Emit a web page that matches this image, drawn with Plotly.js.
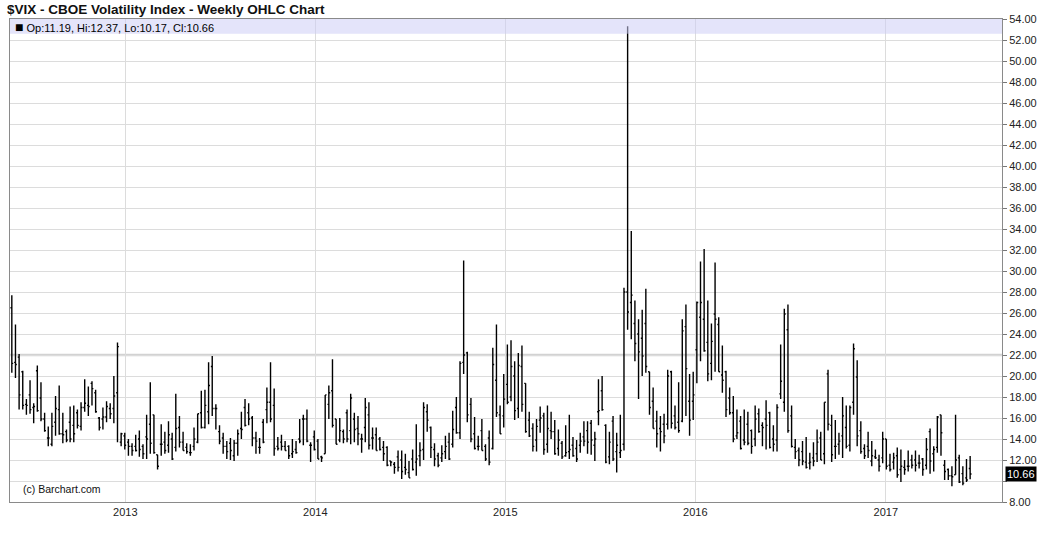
<!DOCTYPE html>
<html>
<head>
<meta charset="utf-8">
<script src="https://cdn.plot.ly/plotly-3.0.1.min.js"></script>
<style>
  html, body { margin: 0; padding: 0; background: #fff; }
  #chart { width: 1043px; height: 534px; }
</style>
</head>
<body>
<div id="chart"></div>
<script>
// ---- Data (weekly OHLC) ----
const firstWeek = '2012-05-28';

const opens = [
26.5,21.3,21.8,20.4,17.3,18.2,17.0,20.5,17.9,15.9,14.1,13.5,15.6,16.8,14.5,14.7,15.6,15.3,16.5,15.2,
17.0,17.2,19.3,18.4,16.0,15.9,16.1,16.9,16.9,18.4,13.7,14.3,13.7,13.3,13.3,14.0,13.3,14.2,15.4,16.3,
12.5,13.5,13.7,13.4,14.0,13.2,15.1,13.7,13.2,12.7,13.3,13.7,16.5,15.1,16.6,20.9,16.9,14.7,14.1,13.3,
13.6,12.4,13.6,15.0,17.0,16.5,16.0,14.1,13.2,15.6,16.8,17.5,17.2,13.3,13.7,13.3,13.3,12.6,13.0,14.0,
15.9,15.9,13.4,14.2,13.8,12.3,12.6,17.3,18.6,15.9,13.9,14.7,16.5,14.8,15.9,15.0,14.0,15.1,16.3,14.1,
14.4,14.0,13.2,13.2,11.9,11.6,12.3,12.0,11.3,10.8,12.1,11.8,12.4,13.0,16.6,15.1,13.0,12.4,12.2,12.8,
13.7,13.5,17.0,14.6,21.3,22.2,17.3,14.5,13.3,14.8,13.3,14.1,13.1,19.6,16.3,16.2,19.2,18.0,20.0,16.9,
20.9,19.3,15.8,15.0,13.9,15.8,16.2,13.5,14.8,14.7,13.1,13.6,12.4,12.8,13.4,13.1,13.4,14.2,14.8,15.5,
13.4,16.6,18.6,15.3,12.3,15.7,12.8,12.7,13.5,28.0,27.0,25.0,24.0,23.6,25.0,20.4,17.6,15.7,15.0,15.4,
15.4,20.4,16.2,15.6,15.7,24.7,17.6,17.6,22.5,25.6,25.4,23.2,21.2,25.9,24.9,20.1,20.4,17.9,16.5,14.3,
15.7,13.9,15.4,14.8,14.0,16.4,15.3,15.9,16.5,14.0,13.9,18.3,17.5,24.4,16.2,13.2,12.9,12.8,11.8,11.7,
12.2,12.6,14.1,12.6,20.2,15.3,13.3,13.5,14.3,15.1,13.4,17.5,19.9,14.8,13.1,13.3,11.9,12.3,12.0,12.2,
14.0,11.5,11.8,12.4,11.1,11.3,11.4,12.0,12.0,11.7,12.1,11.5,14.7,12.6,13.2,16.3,11.5,11.1,10.5,10.6,
12.2,10.7,10.3,11.19
];
const highs = [
27.7,24.9,22.1,20.5,17.8,19.6,17.4,21.0,19.4,16.5,15.2,16.5,18.1,19.1,16.5,14.9,17.1,17.2,16.8,17.5,
19.7,19.0,19.5,18.7,16.1,17.0,17.6,17.4,20.0,23.2,14.6,14.6,14.0,13.6,14.4,14.8,13.5,16.3,19.4,16.3,
12.5,15.4,14.7,15.7,14.6,18.3,16.2,14.7,13.6,13.5,15.1,16.4,18.6,18.7,21.3,21.9,17.3,15.3,14.6,13.8,
14.1,13.9,14.9,16.6,17.8,17.4,16.2,14.7,14.1,15.9,18.9,21.3,18.8,14.2,14.4,13.8,13.4,14.0,13.8,15.9,
16.3,16.8,13.7,14.8,14.0,12.4,18.2,19.1,21.6,15.9,16.0,14.9,16.8,18.3,16.5,16.2,14.5,17.9,17.5,15.1,
15.1,14.2,13.8,13.3,11.9,11.8,12.9,12.9,12.6,11.9,13.0,15.4,13.7,17.5,17.3,15.2,13.6,12.7,13.4,14.3,
14.6,16.7,18.0,21.4,31.0,22.3,17.9,16.1,14.3,15.9,13.5,14.8,22.7,24.9,17.2,20.2,23.0,23.4,21.4,22.2,
22.9,19.3,16.6,15.5,15.9,17.1,16.5,17.2,16.6,15.8,14.9,13.8,15.3,16.3,14.2,13.9,14.6,15.7,15.7,15.8,
14.7,19.7,20.0,15.4,14.7,16.2,14.6,16.3,28.4,53.3,33.8,27.2,25.4,26.3,28.3,20.4,18.9,16.7,16.2,16.4,
20.6,20.5,17.2,19.4,25.4,26.8,20.2,20.4,27.1,30.9,32.1,27.2,25.0,30.8,25.6,22.9,20.5,18.9,18.1,16.8,
16.2,16.8,16.6,14.9,17.2,16.9,15.6,17.7,16.6,15.3,17.3,23.0,26.4,26.8,17.2,14.0,13.2,13.8,14.2,12.7,
13.7,14.9,14.7,17.5,20.6,16.3,15.8,14.6,18.0,17.2,17.2,23.1,21.5,15.7,13.5,14.7,13.8,13.0,12.5,14.7,
14.0,12.6,12.7,13.2,13.0,12.0,12.9,12.5,12.9,12.5,12.2,14.1,15.0,13.3,16.2,16.3,12.0,11.2,11.4,16.3,
12.5,11.4,12.1,12.37
];
const lows = [
20.3,19.8,16.8,16.8,16.3,16.4,15.5,16.6,15.7,14.7,13.3,13.3,14.3,14.4,13.6,13.7,13.7,13.7,15.0,14.8,
16.6,16.2,17.2,16.5,14.8,14.9,15.6,15.9,15.5,13.7,13.3,13.0,12.4,12.4,12.8,12.3,12.1,12.1,12.6,12.6,
11.1,12.4,12.6,12.7,12.0,12.8,13.2,12.9,12.6,12.4,12.9,13.6,15.0,15.0,15.4,16.2,14.9,13.5,12.6,12.1,
12.0,11.9,12.4,14.0,15.2,15.3,13.3,12.6,12.6,13.6,15.5,15.6,12.4,12.9,12.9,12.9,12.1,12.2,12.6,13.6,
13.4,13.7,11.8,12.9,12.1,11.8,12.6,15.9,15.1,13.5,13.7,13.6,13.7,13.5,13.7,13.4,12.7,13.7,13.0,13.0,
12.9,12.9,11.9,11.4,11.4,10.7,10.9,10.2,10.6,10.3,11.0,10.5,11.4,12.0,14.7,12.2,11.4,11.3,11.8,12.1,
12.0,13.2,14.5,14.0,20.2,15.6,13.7,13.0,12.9,12.9,11.9,11.5,13.0,16.1,14.5,15.1,17.3,17.6,15.8,16.0,
16.6,14.6,14.2,12.8,12.8,14.6,12.5,12.7,14.0,12.5,12.4,12.1,12.3,12.1,12.3,11.8,12.7,13.3,12.6,12.5,
11.9,15.3,16.7,11.7,11.6,11.9,10.8,12.2,12.9,24.4,23.5,21.4,17.8,20.0,20.3,16.3,15.0,13.2,12.8,13.6,
14.9,15.0,14.9,14.6,15.6,16.2,14.3,15.8,19.3,21.4,22.3,19.5,19.6,20.4,20.4,18.4,16.1,16.3,13.7,14.0,
13.0,13.4,13.4,12.6,13.3,14.6,13.3,13.0,13.1,12.8,12.8,17.8,16.6,14.6,13.2,12.1,11.4,11.5,11.2,11.1,
11.4,11.8,12.0,11.6,14.8,11.8,12.1,12.5,12.2,13.1,12.8,16.3,13.3,12.6,12.1,12.2,11.4,12.1,10.9,11.7,
11.1,10.9,11.1,10.3,9.9,10.6,10.9,11.2,10.9,11.2,10.5,11.1,10.7,10.9,12.7,12.4,10.1,10.1,9.5,10.6,
9.8,9.6,9.9,10.17
];
const closes = [
21.2,21.1,18.2,17.2,17.2,16.8,17.1,16.7,15.9,14.8,14.1,15.2,16.9,14.5,14.4,13.9,14.0,14.5,15.3,17.0,
17.4,17.1,18.8,16.6,15.1,16.1,17.1,16.4,18.1,22.8,14.5,13.4,13.3,12.9,12.9,13.0,12.6,14.0,13.6,12.7,
11.4,13.5,12.9,14.4,12.1,15.0,13.7,12.9,12.8,12.7,14.0,16.4,15.1,17.2,19.1,16.9,16.9,13.8,13.3,12.8,
12.9,13.6,14.5,14.9,15.3,15.9,14.1,13.8,13.2,13.7,17.5,15.9,13.1,13.1,13.3,12.9,12.4,12.8,12.7,13.8,
15.9,13.8,13.4,13.0,12.1,12.2,18.2,18.4,15.3,13.5,14.8,14.0,14.0,17.9,14.9,14.5,14.0,17.0,13.4,14.1,
12.9,13.0,12.6,11.5,11.8,11.3,11.3,10.9,11.1,10.3,11.1,12.1,12.9,17.0,15.8,13.2,12.1,11.5,12.6,13.3,
12.1,14.9,14.6,21.2,22.0,16.3,14.0,13.1,13.3,12.9,12.1,11.8,21.1,16.5,14.5,17.8,17.5,20.9,16.7,21.0,
17.3,14.7,14.3,13.3,15.2,16.0,13.0,15.0,14.7,12.6,13.9,12.3,12.7,13.0,12.4,12.1,13.8,13.8,13.7,13.9,
14.0,16.7,16.8,11.8,13.7,12.1,13.4,12.9,28.0,26.1,27.7,23.1,22.3,21.9,20.9,17.0,15.0,14.5,14.7,14.3,
20.0,15.5,15.1,14.8,24.3,20.7,15.8,18.2,27.0,27.0,22.4,20.2,23.3,25.4,20.4,19.6,16.8,16.5,14.0,14.6,
13.1,13.7,13.6,13.3,15.9,14.7,15.1,15.3,13.2,13.5,17.0,19.5,25.9,14.8,13.3,12.8,12.0,11.9,11.3,11.8,
11.9,13.7,12.0,17.5,15.4,12.5,13.3,13.8,16.2,13.3,17.0,22.6,14.3,12.8,12.4,12.9,12.4,12.2,11.4,14.0,
11.4,11.1,12.2,10.6,11.4,11.1,11.4,11.5,11.5,11.7,11.1,13.0,11.9,13.0,16.1,14.6,10.9,10.5,10.4,12.0,
9.9,9.8,10.1,10.66
];

const yearTickDates = ['2013-01-01','2014-01-01','2015-01-01','2016-01-01','2017-01-01'];
const yearTickLabels = ['2013','2014','2015','2016','2017'];
const yTickValues = [8,10,12,14,16,18,20,22,24,26,28,30,32,34,36,38,40,42,44,46,48,50,52,54];
const lastBar = {op: 11.19, hi: 12.37, lo: 10.17, cl: 10.66};

// weekly dates (Monday of each week)
const t0 = Date.parse(firstWeek + 'T00:00:00Z');
const dates = opens.map((_, i) => new Date(t0 + i * 7 * 86400000).toISOString().slice(0, 10));

const FONT = 'Arial, "Liberation Sans", Helvetica, sans-serif';

const trace = {
  type: 'ohlc',
  x: dates,
  open: opens, high: highs, low: lows, close: closes,
  increasing: {line: {color: '#000000', width: 1.4}},
  decreasing: {line: {color: '#000000', width: 1.4}},
  tickwidth: 0.38,
  hoverinfo: 'none'
};

const layout = {
  width: 1043, height: 534,
  margin: {l: 10, r: 41, t: 19, b: 32, pad: 0},
  paper_bgcolor: '#ffffff',
  plot_bgcolor: '#ffffff',
  showlegend: false,
  font: {family: FONT, size: 11, color: '#222'},
  title: {
    text: '$VIX - CBOE Volatility Index - Weekly OHLC Chart',
    xref: 'container', yref: 'container',
    x: 7 / 1043, xanchor: 'left',
    y: 1 - 9 / 534, yanchor: 'middle',
    font: {family: FONT, size: 13.5, color: '#111', weight: 'bold'}
  },
  xaxis: {
    type: 'date',
    range: ['2012-05-24 12:00', '2017-08-12 05:00'],
    rangeslider: {visible: false},
    tickmode: 'array',
    tickvals: yearTickDates,
    ticktext: yearTickLabels,
    showgrid: true, gridcolor: '#dcdcdc', gridwidth: 1,
    showline: true, linecolor: '#8a8a8a', linewidth: 1, mirror: true,
    ticks: '', zeroline: false,
    tickfont: {family: FONT, size: 11, color: '#222'},
    fixedrange: true
  },
  yaxis: {
    side: 'right',
    range: [8, 54],
    tickmode: 'array',
    tickvals: yTickValues,
    ticktext: yTickValues.map(v => v === 10 ? '' : v.toFixed(2)),
    showgrid: true, gridcolor: '#dcdcdc', gridwidth: 1,
    showline: true, linecolor: '#8a8a8a', linewidth: 1, mirror: true,
    ticks: 'outside', ticklen: 4, tickcolor: '#777',
    zeroline: false,
    tickfont: {family: FONT, size: 11, color: '#222'},
    fixedrange: true
  },
  shapes: [
    {type: 'line', xref: 'paper', x0: 0, x1: 1, yref: 'y', y0: 22, y1: 22,
     line: {color: '#d2d2d2', width: 2.5}, layer: 'below'},
    {type: 'rect', xref: 'paper', x0: 0, x1: 1, yref: 'y', y0: 52.6, y1: 54,
     fillcolor: 'rgba(205,205,245,0.55)', line: {width: 0}, layer: 'above'}
  ],
  annotations: [
    {xref: 'paper', x: 0, xshift: 3, xanchor: 'left', yref: 'y', y: 53.27, yanchor: 'middle',
     text: '<span style="font-size:14px">\u25A0</span> Op:' + lastBar.op.toFixed(2) + ', Hi:' + lastBar.hi.toFixed(2) +
           ', Lo:' + lastBar.lo.toFixed(2) + ', Cl:' + lastBar.cl.toFixed(2),
     showarrow: false, font: {family: FONT, size: 11, color: '#000'}},
    {xref: 'paper', x: 0, xshift: 11, xanchor: 'left', yref: 'y', y: 9.25, yanchor: 'middle',
     text: '(c) Barchart.com', showarrow: false,
     font: {family: FONT, size: 10.5, color: '#111'}},
    {xref: 'paper', x: 1, xshift: 3, xanchor: 'left', yref: 'y', y: lastBar.cl, yanchor: 'middle',
     text: lastBar.cl.toFixed(2), showarrow: false, bgcolor: '#000', borderpad: 1,
     font: {family: FONT, size: 11, color: '#fff'}}
  ]
};

Plotly.newPlot('chart', [trace], layout, {staticPlot: true, displayModeBar: false});
</script>
</body>
</html>
